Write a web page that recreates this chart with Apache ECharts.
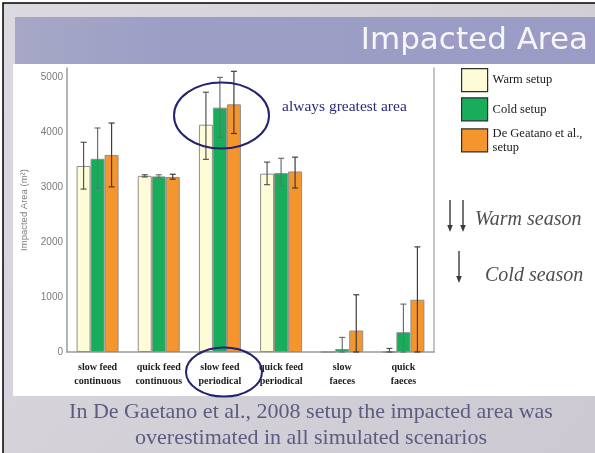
<!DOCTYPE html>
<html>
<head>
<meta charset="utf-8">
<title>Impacted Area</title>
<script src="https://cdn.jsdelivr.net/npm/echarts@6/dist/echarts.min.js"></script>
<style>
  html, body { margin: 0; padding: 0; background: #ffffff; }
  #chart { width: 595px; height: 453px; }
</style>
</head>
<body>
<div id="chart"></div>
<script>
// Scenario categories (two-line axis labels)
const categories = [
  'slow feed\ncontinuous',
  'quick feed\ncontinuous',
  'slow feed\nperiodical',
  'quick feed\nperiodical',
  'slow\nfaeces',
  'quick\nfaeces'
];

// Mean impacted area (m²) per setup
const warmSetup   = [3380, 3200, 4130, 3240, 0, 0];
const coldSetup   = [3510, 3190, 4440, 3250, 55, 360];
const deGaetano   = [3580, 3180, 4500, 3280, 390, 950];

// Error bar limits (low / high)
const warmLow  = [2960, 3180, 3500, 3040, 0, 0];
const warmHigh = [3810, 3220, 4720, 3450, 0, 65];
const coldLow  = [2980, 3170, 3900, 3020, 0, 0];
const coldHigh = [4070, 3220, 4990, 3520, 265, 870];
const dgLow    = [3000, 3140, 3970, 2980, 0, 0];
const dgHigh   = [4160, 3230, 5100, 3540, 1040, 1910];

// Y axis ticks
const yTicks = [0, 1000, 2000, 3000, 4000, 5000];

const seriesNames = ['Warm setup', 'Cold setup', 'De Geatano et al., setup'];
const seriesColors = ['#fdfcd6', '#17ad5b', '#f4952d'];
const BAR_W = 14;

function errorBars(lows, highs, slot, color) {
  return {
    type: 'custom',
    z: 5,
    silent: true,
    renderItem: function (params, api) {
      const lo = api.coord([api.value(0), api.value(1)]);
      const hi = api.coord([api.value(0), api.value(2)]);
      if (api.value(2) <= api.value(1)) return null;
      const cx = lo[0] + (slot - 1) * BAR_W;
      const cap = 3;
      const style = { stroke: color, lineWidth: 1.2 };
      return {
        type: 'group',
        children: [
          { type: 'line', shape: { x1: cx, y1: lo[1], x2: cx, y2: hi[1] }, style: style },
          { type: 'line', shape: { x1: cx - cap, y1: hi[1], x2: cx + cap, y2: hi[1] }, style: style },
          { type: 'line', shape: { x1: cx - cap, y1: lo[1], x2: cx + cap, y2: lo[1] }, style: style }
        ]
      };
    },
    data: categories.map(function (c, i) { return [i, lows[i], highs[i]]; })
  };
}

function barSeries(name, values, color) {
  return {
    name: name,
    type: 'bar',
    barWidth: BAR_W,
    barGap: '0%',
    itemStyle: { color: color, borderColor: '#8f8f8f', borderWidth: 1 },
    data: values
  };
}

function arrow(x, y1, y2) {
  return {
    type: 'group',
    z: 100,
    children: [
      { type: 'line', shape: { x1: x, y1: y1, x2: x, y2: y2 - 5 }, style: { stroke: '#3a3a3a', lineWidth: 1.4 } },
      { type: 'polygon', shape: { points: [[x - 2.8, y2 - 7], [x + 2.8, y2 - 7], [x, y2]] }, style: { fill: '#3a3a3a' } }
    ]
  };
}

const chart = echarts.init(document.getElementById('chart'), null, { renderer: 'canvas' });

chart.setOption({
  animation: false,
  backgroundColor: '#d6d3db',
  textStyle: { fontFamily: 'Liberation Sans' },
  grid: { left: 67, right: 161, top: 68, bottom: 101 },
  legend: {
    orient: 'vertical',
    left: 461,
    top: 68,
    padding: 0,
    icon: 'rect',
    itemWidth: 26,
    itemHeight: 23,
    itemGap: 5,
    data: seriesNames,
    itemStyle: { borderColor: '#2e2e2e', borderWidth: 1.2 },
    formatter: function (name) { return name.replace('al., ', 'al.,\n'); },
    textStyle: { fontFamily: 'Liberation Serif', fontSize: 12.5, color: '#1a1a1a', lineHeight: 14 }
  },
  xAxis: {
    type: 'category',
    data: categories,
    axisLine: { lineStyle: { color: '#9a9a9a', width: 1.5 } },
    axisTick: { show: false },
    axisLabel: {
      interval: 0,
      margin: 8,
      fontFamily: 'Liberation Serif',
      fontWeight: 'bold',
      fontSize: 10,
      lineHeight: 14,
      color: '#1c1c1c'
    }
  },
  yAxis: [
    {
      type: 'value',
      min: yTicks[0],
      max: 5160,
      interval: yTicks[1] - yTicks[0],
      name: 'Impacted Area (m²)',
      nameLocation: 'middle',
      nameGap: 36,
      nameTextStyle: { fontSize: 9.5, color: '#808080' },
      axisLine: { show: true, lineStyle: { color: '#9a9a9a', width: 1.5 } },
      axisTick: { show: false },
      splitLine: { show: false },
      axisLabel: {
        showMaxLabel: false,
        margin: 4,
        fontSize: 10,
        color: '#7a7a7a',
        formatter: function (v) { return yTicks.indexOf(v) >= 0 ? String(v) : ''; }
      }
    },
    {
      type: 'value',
      position: 'right',
      min: yTicks[0],
      max: 5160,
      interval: yTicks[1] - yTicks[0],
      axisLine: { show: true, lineStyle: { color: '#b0b0b0', width: 1.5 } },
      axisTick: { show: false },
      axisLabel: { show: false },
      splitLine: { show: false }
    }
  ],
  series: [
    barSeries(seriesNames[0], warmSetup, seriesColors[0]),
    barSeries(seriesNames[1], coldSetup, seriesColors[1]),
    barSeries(seriesNames[2], deGaetano, seriesColors[2]),
    errorBars(warmLow, warmHigh, 0, '#555555'),
    errorBars(coldLow, coldHigh, 1, '#6e6e6e'),
    errorBars(dgLow, dgHigh, 2, '#3c3c3c')
  ],
  graphic: [
    // slide frame and background
    { type: 'rect', z: -20, shape: { x: 0, y: 0, width: 595, height: 453 }, style: { fill: '#ffffff' } },
    {
      type: 'rect', z: -19, shape: { x: 3, y: 3, width: 600, height: 460 },
      style: {
        fill: new echarts.graphic.LinearGradient(0, 0, 1, 1, [
          { offset: 0, color: '#dcd9e0' },
          { offset: 0.5, color: '#d3d0d8' },
          { offset: 1, color: '#cdc9d2' }
        ]),
        stroke: '#000000', lineWidth: 1.5
      }
    },
    // title band
    {
      type: 'rect', z: -18, shape: { x: 15, y: 17, width: 590, height: 47 },
      style: {
        fill: new echarts.graphic.LinearGradient(0, 0, 1, 0, [
          { offset: 0, color: '#a7a8c6' },
          { offset: 0.25, color: '#9c9ec5' },
          { offset: 1, color: '#9a9cc6' }
        ])
      }
    },
    // white chart panel
    { type: 'rect', z: -18, shape: { x: 13, y: 64, width: 590, height: 332 }, style: { fill: '#ffffff' } },
    {
      type: 'text', z: 100, right: 7, top: 25,
      style: {
        text: 'Impacted Area', font: '31px "DejaVu Sans"', fill: '#f6f6fa',
        shadowColor: 'rgba(40,40,60,0.85)', shadowBlur: 2, shadowOffsetX: 1.5, shadowOffsetY: 1.5
      }
    },
    // annotation: greatest area
    {
      type: 'ellipse', z: 100, shape: { cx: 221.5, cy: 115.5, rx: 47.5, ry: 33 },
      style: { fill: 'none', stroke: '#23236e', lineWidth: 2 }
    },
    {
      type: 'text', z: 100, x: 282, y: 99,
      style: { text: 'always greatest area', font: '15.5px "Liberation Serif"', fill: '#2a2a7c' }
    },
    {
      type: 'ellipse', z: 100, shape: { cx: 224, cy: 372, rx: 38, ry: 24.5 },
      style: { fill: 'none', stroke: '#23236e', lineWidth: 2 }
    },
    // season arrows
    arrow(450, 200, 232),
    arrow(463, 200, 232),
    arrow(459, 251, 283),
    {
      type: 'text', z: 100, x: 475, y: 210,
      style: { text: 'Warm season', font: 'italic 20px "Liberation Serif"', fill: '#4e4e4e' }
    },
    {
      type: 'text', z: 100, x: 485, y: 266,
      style: { text: 'Cold season', font: 'italic 20px "Liberation Serif"', fill: '#4e4e4e' }
    },
    // conclusion text
    {
      type: 'text', z: 100, x: 311, y: 399,
      style: {
        text: 'In De Gaetano et al., 2008 setup the impacted area was\noverestimated in all simulated scenarios',
        font: '22px "Liberation Serif"', fill: '#5a5c80', align: 'center', lineHeight: 26
      }
    }
  ]
});
</script>
</body>
</html>
